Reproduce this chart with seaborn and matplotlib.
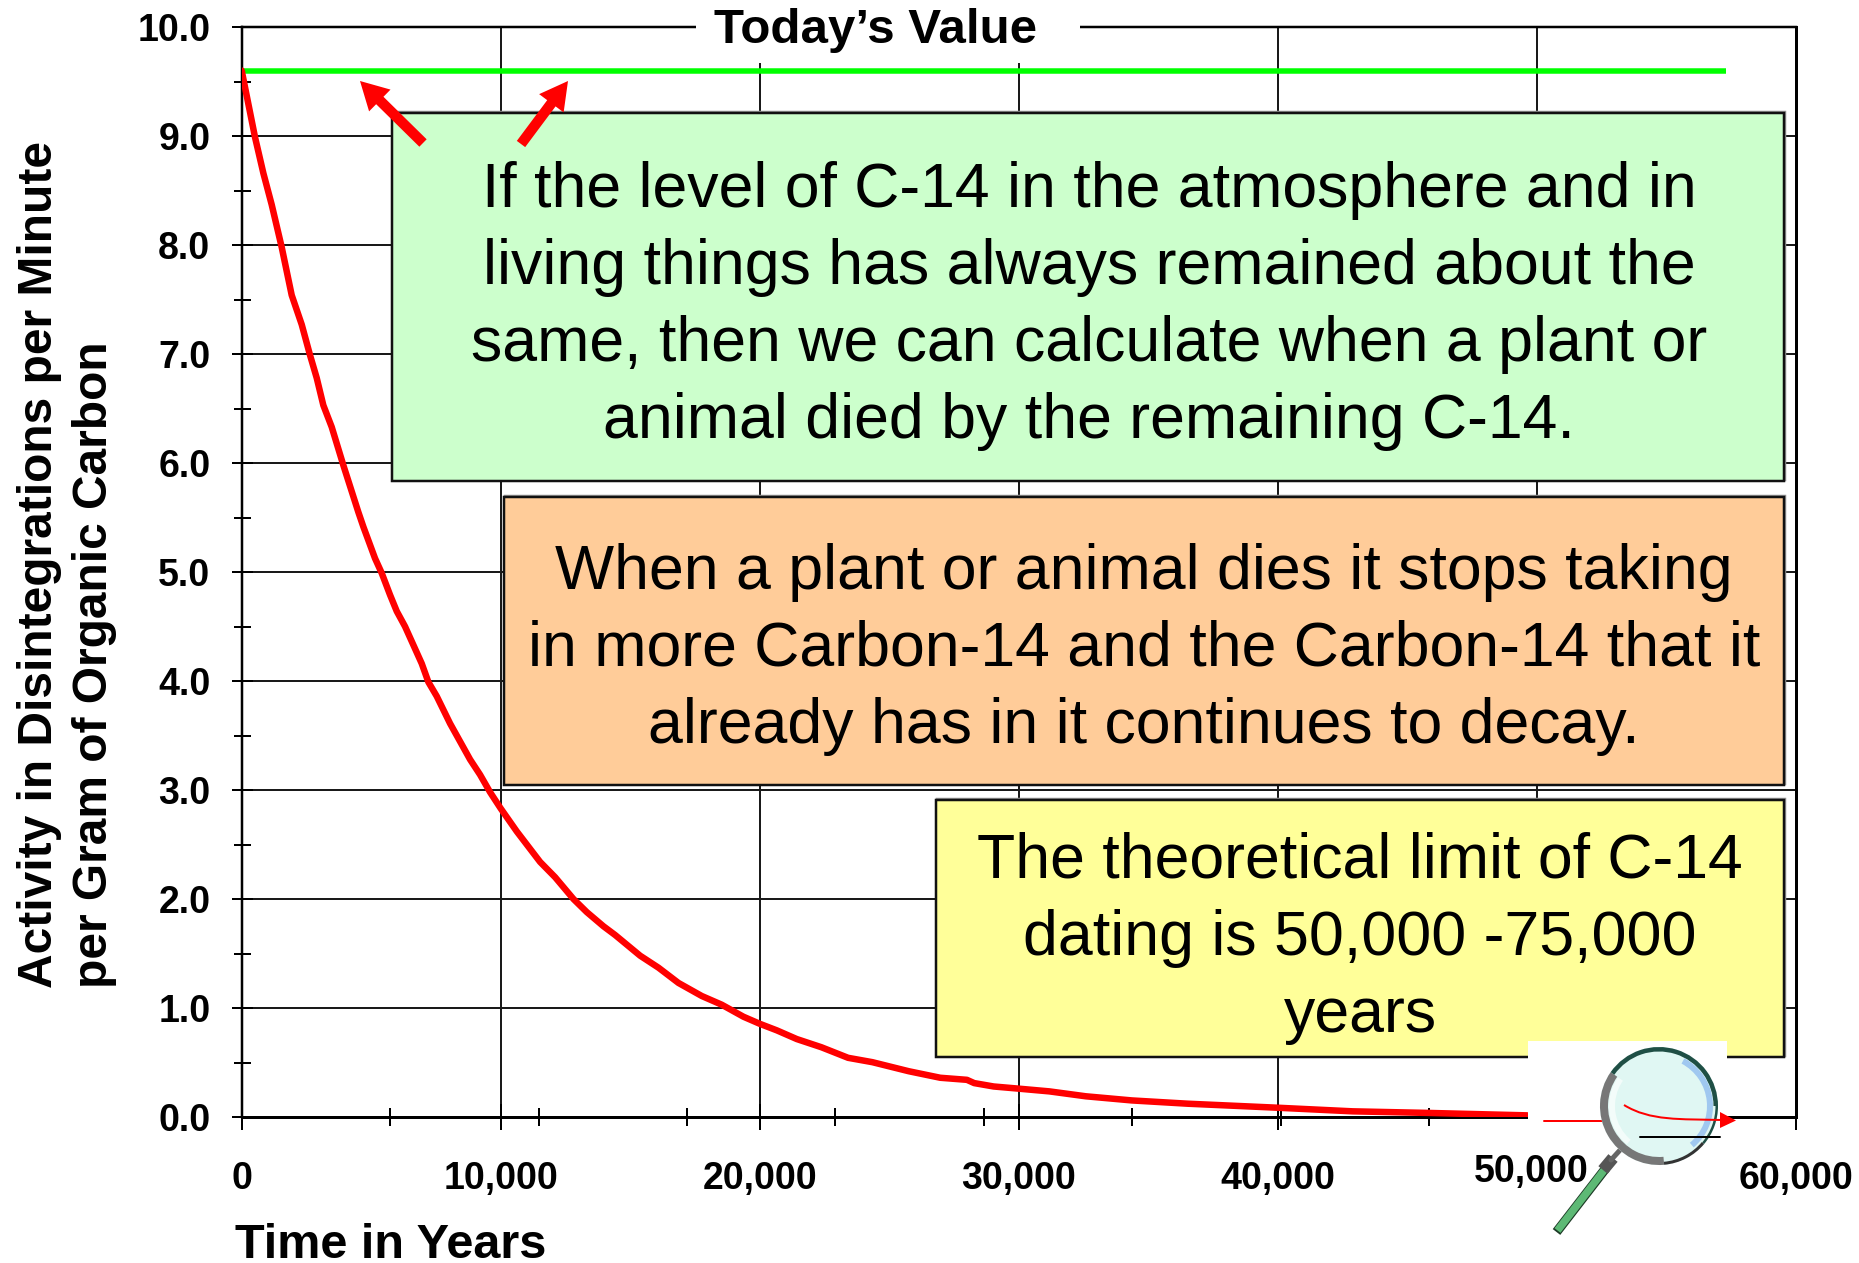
import matplotlib
matplotlib.use("Agg")
import matplotlib.pyplot as plt
import seaborn as sns
from matplotlib.patches import Rectangle, Circle, Wedge, FancyArrowPatch, Polygon, PathPatch
from matplotlib.path import Path
from matplotlib.ticker import FixedLocator
from matplotlib.transforms import ScaledTranslation

# ---------- data ----------
years = [0, 513, 835, 1158, 1544, 1930, 2317, 2637, 2896, 3151, 3475, 3923, 4502, 4696,
         5147, 5405, 5726, 5985, 6305, 6950, 7207, 7529, 8044, 8816, 9202, 9588, 10000,
         10618, 11519, 12098, 12806, 13320, 13964, 14414, 15380, 16088, 16860, 17761,
         18533, 19369, 20000, 20656, 21428, 22378, 23408, 24345, 25749, 26966, 27996,
         28277, 29026, 30000, 31180, 32584, 34363, 36517, 40000, 42884, 45880, 49625]
activity = [9.60, 8.99, 8.66, 8.37, 7.98, 7.54, 7.27, 6.99, 6.78, 6.53, 6.33, 5.98, 5.55, 5.415,
            5.125, 4.99, 4.79, 4.64, 4.50, 4.16, 3.99, 3.86, 3.61, 3.28, 3.14, 2.98, 2.83,
            2.62, 2.34, 2.20, 2.00, 1.88, 1.75, 1.67, 1.48, 1.37, 1.23, 1.11,
            1.03, 0.92, 0.855, 0.795, 0.715, 0.64, 0.543, 0.503, 0.42, 0.36, 0.341,
            0.311, 0.28, 0.26, 0.235, 0.19, 0.152, 0.122, 0.085, 0.052, 0.037, 0.015]
today_years = [0, 57300]
today_activity = [9.6, 9.6]
x_major = [0, 10000, 20000, 30000, 40000, 50000, 60000]
x_labels = ["0", "10,000", "20,000", "30,000", "40,000", "50,000", "60,000"]
x_half_lives = [5730, 11460, 17190, 22920, 28650, 34380, 40110, 45840, 51570, 57300]
y_major = [0, 1, 2, 3, 4, 5, 6, 7, 8, 9, 10]
y_minor = [0.5, 1.5, 2.5, 3.5, 4.5, 5.5, 6.5, 7.5, 8.5, 9.5]
y_labels = ["0.0", "1.0", "2.0", "3.0", "4.0", "5.0", "6.0", "7.0", "8.0", "9.0", "10.0"]
x_title = "Time in Years"
y_title = "Activity in Disintegrations per Minute\nper Gram of Organic Carbon"
top_note = "Today\u2019s Value"
green_text = ["If the level of C-14 in the atmosphere and in",
              "living things has always remained about the",
              "same, then we can calculate when a plant or",
              "animal died by the remaining C-14."]
orange_text = ["When a plant or animal dies it stops taking",
               "in more Carbon-14 and the Carbon-14 that it",
               "already has in it continues to decay."]
yellow_text = ["The theoretical limit of C-14",
               "dating is 50,000 -75,000",
               "years"]

# ---------- set-up ----------
W, H = 1859, 1263
sns.set_theme(style="white")
plt.rcParams["font.family"] = ["Liberation Sans", "DejaVu Sans"]
px = 72 / 100  # points per pixel at 100 dpi

L, R, T, B = 241.7, 1796.0, 27.0, 1117.0
rect = [L / W, 1 - B / H, (R - L) / W, (B - T) / H]
fig = plt.figure(figsize=(W / 100, H / 100), dpi=100, facecolor="white")
ax = fig.add_axes(rect, zorder=1)

sns.lineplot(x=today_years, y=today_activity, color="#00FF00", linewidth=5.5 * px,
             ax=ax, estimator=None, solid_capstyle="butt", zorder=4)
sns.lineplot(x=years, y=activity, color="#FF0000", linewidth=6.5 * px,
             ax=ax, estimator=None, zorder=5)

ax.set_xlim(0, 60000)
ax.set_ylim(0, 10)
ax.set_xticks(x_major)
ax.set_xticklabels([])
ax.xaxis.set_minor_locator(FixedLocator(x_half_lives))
ax.set_yticks(y_major)
ax.set_yticklabels(y_labels, fontsize=27, fontweight="bold", color="black")
ax.yaxis.set_minor_locator(FixedLocator(y_minor))
ax.grid(True, which="major", color="#1a1a1a", linewidth=2 * px, zorder=1)
ax.set_axisbelow(True)
ax.tick_params(axis="x", which="major", bottom=True, direction="inout", length=27 * px,
               width=2 * px, color="black", labelbottom=False)
ax.tick_params(axis="x", which="minor", bottom=True, direction="inout", length=18 * px,
               width=2 * px, color="black")
ax.tick_params(axis="y", which="major", left=True, direction="inout", length=21 * px,
               width=2 * px, color="black", pad=15)
ax.tick_params(axis="y", which="minor", left=True, direction="inout", length=17 * px,
               width=2 * px, color="black")
for side, lw in {"left": 2.5, "right": 3, "top": 2.5, "bottom": 3}.items():
    ax.spines[side].set_visible(True)
    ax.spines[side].set_color("black")
    ax.spines[side].set_linewidth(lw * px)

ax.set_xlabel(x_title, fontsize=35, fontweight="bold", color="black", ha="left", va="baseline")
ax.xaxis.set_label_coords((235 - L) / (R - L), (B - 1258) / (B - T))
ax.set_ylabel(y_title, fontsize=34.5, fontweight="bold", color="black", rotation=90,
              rotation_mode="anchor", ha="left", va="center", multialignment="left", linespacing=1.3)
ax.yaxis.set_label_coords((67 - L) / (R - L), (B - 988) / (B - T))

# ---------- overlay in picture pixels: boxes, callouts, magnifier ----------
ov = fig.add_axes([0, 0, 1, 1], zorder=2)
ov.set_xlim(0, W)
ov.set_ylim(H, 0)
ov.axis("off")
ov.patch.set_visible(False)


def box(x0, y0, x1, y1, color):
    ov.add_patch(Rectangle((x0 + 1, y0 - 1), x1 - x0, y1 - y0, fc="none", ec="#999999", lw=2.5 * px, zorder=2))
    ov.add_patch(Rectangle((x0, y0), x1 - x0, y1 - y0, fc=color, ec="#111111", lw=2.5 * px, zorder=3))


def lines(cx, baselines, texts):
    for yb, s in zip(baselines, texts):
        ov.text(cx, yb, s, ha="center", va="baseline", fontsize=FS, color="black", zorder=6)


FS = 45.1
box(392, 113, 1784, 481, "#CCFFCC")
box(504, 497, 1784, 785, "#FFCC99")
box(936, 800, 1784, 1057, "#FFFF99")
lines(1089, [207, 284, 361, 438], green_text)
lines(1144, [589, 666, 743], orange_text)
lines(1360, [878, 955, 1032], yellow_text)

# white mask behind "Today's Value"
ov.add_patch(Rectangle((696, 14), 384, 49, fc="white", ec="none", zorder=2))
ov.text(876, 43, top_note, ha="center", va="baseline", fontsize=35.5, fontweight="bold",
        color="black", zorder=6)

# callout arrows
for tail, tip in [((423, 143), (360, 81)), ((521, 144), (568, 81))]:
    ov.add_patch(FancyArrowPatch(tail, tip, arrowstyle="simple,head_length=20,head_width=22,tail_width=7.5",
                                 mutation_scale=1, shrinkA=0, shrinkB=0, fc="#FF0000", ec="none", zorder=7))

# magnifier picture
ov.add_patch(Rectangle((1528, 1041), 199, 222, fc="white", ec="none", zorder=4))
ov.plot([1727, 1796], [1117, 1117], color="black", lw=3 * px, zorder=5, solid_capstyle="butt")
ov.plot([1544, 1610], [1120.5, 1120.5], color="#FF0000", lw=2 * px, zorder=5)
# handle
ov.plot([1556.5, 1606], [1232, 1168], color="#1c3a25", lw=9.5 * px, zorder=5, solid_capstyle="butt")
ov.plot([1557.5, 1605], [1230.5, 1169], color="#5DB975", lw=7.5 * px, zorder=5.1, solid_capstyle="butt")
ov.plot([1603, 1613], [1170, 1158], color="#555555", lw=12 * px, zorder=5.2, solid_capstyle="butt")
ov.plot([1611, 1621], [1160, 1149], color="#666666", lw=5 * px, zorder=5.2)
# lens (the overlay's y axis points down, so wedge angles run clockwise on screen)
ov.add_patch(Circle((1659, 1106), 59, fc="#E0F7F3", ec="none", zorder=5.3))
ov.add_patch(Wedge((1659, 1106), 59, 85, 215, width=8, fc="#777777", ec="none", zorder=5.4))
ov.add_patch(Wedge((1659, 1106), 59, 40, 85, width=3, fc="#333333", ec="none", zorder=5.4))
ov.add_patch(Wedge((1659, 1106), 59, 215, 360, width=4.5, fc="#1F4F45", ec="none", zorder=5.4))
ov.add_patch(Wedge((1659, 1106), 59, 0, 40, width=2.5, fc="#1F4F45", ec="none", zorder=5.4))
ov.add_patch(Wedge((1659, 1106), 54, -62, 50, width=6, fc="#A0C8F0", ec="none", zorder=5.5))
ov.add_patch(Wedge((1659, 1106), 50, 130, 215, width=6, fc="#F3FCFA", ec="none", zorder=5.5))
curve = Path([(1624, 1105), (1650, 1121), (1680, 1119), (1722, 1120)],
             [Path.MOVETO, Path.CURVE4, Path.CURVE4, Path.CURVE4])
ov.add_patch(PathPatch(curve, fc="none", ec="#FF0000", lw=2 * px, zorder=5.6))
ov.add_patch(Polygon([(1720, 1112), (1736, 1120.5), (1720, 1128)], fc="#FF0000", ec="none", zorder=5.6))
ov.plot([1640, 1720], [1137, 1137], color="black", lw=2 * px, zorder=5.6)

# ---------- x tick labels sit above the magnifier's white backing ----------
top = ax.twiny()
top.set_zorder(3)
top.patch.set_visible(False)
for s in top.spines.values():
    s.set_visible(False)
top.grid(False)
top.set_xlim(0, 60000)
top.set_xticks(x_major)
top.set_xticklabels(x_labels, fontsize=27, fontweight="bold", color="black")
top.tick_params(axis="x", which="both", top=False, bottom=False, labeltop=False, labelbottom=True, pad=26)
for t in top.get_xticklabels():
    t.set_va("top")
lab50 = top.xaxis.get_major_ticks()[5].label1
lab50.set_transform(lab50.get_transform() + ScaledTranslation(-5.5 / 100, 7 / 100, fig.dpi_scale_trans))

fig.savefig("out.png", dpi=100, facecolor="white")
